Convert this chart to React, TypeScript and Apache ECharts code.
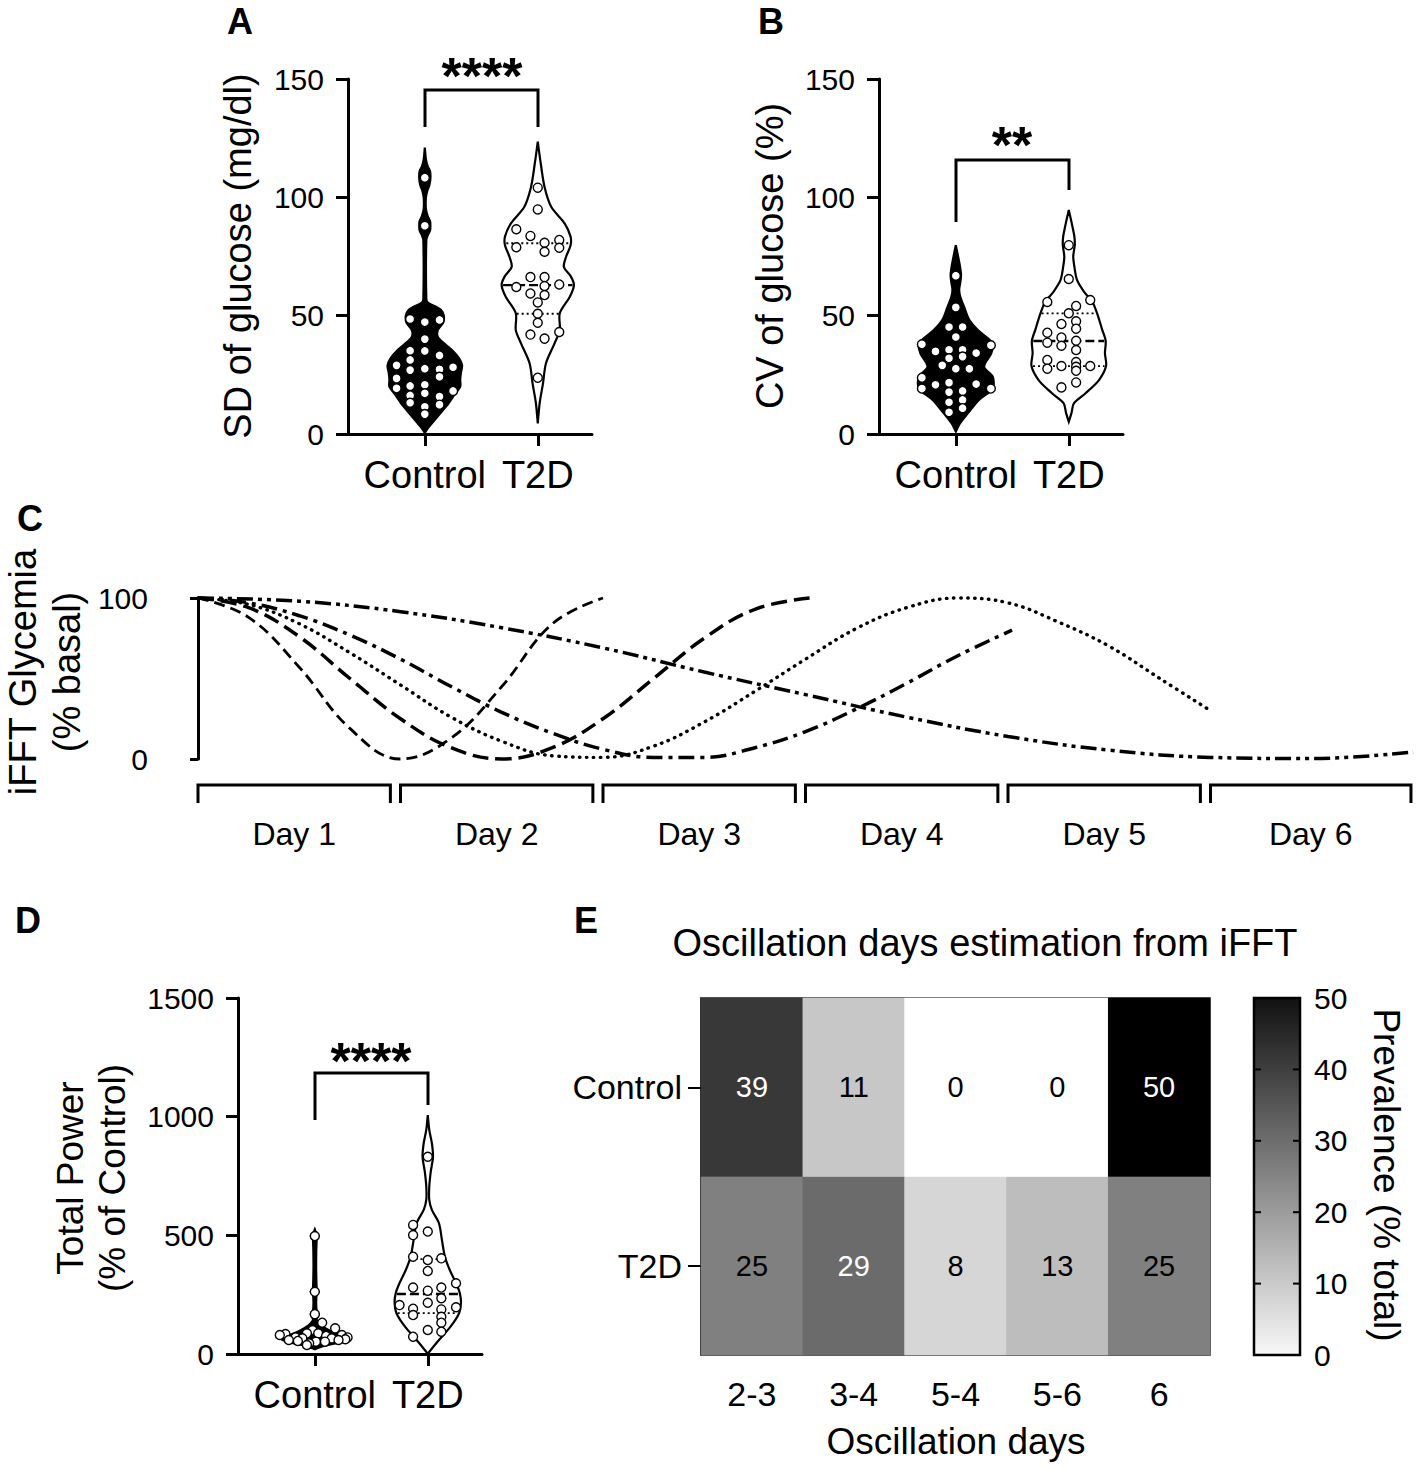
import React, { useEffect, useRef } from 'react';
import * as echarts from 'echarts';

const FONT = '"Liberation Sans", Arial, Helvetica, sans-serif';

const groupLabels = ['Control', 'T2D'];

// ---------- Panel A : SD of glucose ----------
const aCtrlVals = [108.3, 88.0, 48.6, 47.3, 48.2, 40.1, 35.2, 35.1, 33.2, 31.3, 29.0, 27.0, 27.6, 27.3, 28.2, 24.2, 23.5, 19.3, 20.3, 20.8, 18.2, 17.2, 16.3, 15.8, 13.2, 11.5, 12.4, 8.4];
const aCtrlOffs = [0, 0, -0.13, 0, 0.13, 0, -0.13, 0, 0.13, -0.13, -0.25, -0.13, 0, 0.13, 0.25, 0.13, -0.25, -0.25, -0.13, 0, 0.25, 0, -0.13, 0.13, -0.13, 0, 0.13, 0];
const aT2dVals = [104.1, 94.9, 86.5, 83.7, 82.0, 80.8, 78.9, 77.0, 78.7, 66.3, 66.3, 62.1, 62.5, 63.2, 59.4, 58.7, 55.6, 50.8, 47.0, 42.0, 40.3, 43.1, 23.8];
const aT2dOffs = [0, 0, -0.19, -0.065, 0.19, 0.06, -0.19, 0.06, 0.19, -0.065, 0.06, -0.19, 0.06, 0.19, -0.065, 0.06, 0, 0, 0, -0.065, 0.06, 0.19, 0];
const aCtrlKdeY = [0.5, 3, 7, 12, 17, 20, 23, 26, 29, 32, 35, 38, 41, 44, 47, 50, 52.5, 54, 55.5, 57, 82, 84, 86, 88, 90, 92, 95, 100, 103, 105, 108, 111, 113, 116, 121];
const aCtrlKdeD = [0, 0.11, 0.32, 0.59, 0.81, 0.95, 0.95, 0.97, 1.0, 0.92, 0.76, 0.54, 0.35, 0.35, 0.49, 0.51, 0.43, 0.27, 0.08, 0.04, 0.04, 0.08, 0.14, 0.15, 0.14, 0.08, 0.03, 0.03, 0.07, 0.12, 0.15, 0.14, 0.08, 0.03, 0];
const aT2dKdeY = [4.5, 13, 21.4, 29.9, 38.3, 43.9, 51, 58, 62.9, 66.5, 70.7, 74.9, 79.8, 83.4, 89, 96, 104.5, 114.3, 123.5];
const aT2dKdeD = [0, 0.05, 0.14, 0.22, 0.45, 0.59, 0.59, 0.86, 0.97, 0.89, 0.70, 0.76, 0.88, 0.88, 0.72, 0.36, 0.18, 0.08, 0];
const aT2dQuart = [50.8, 62.9, 80.6];
const aTicks = { min: 0, max: 150, step: 50 };

// ---------- Panel B : CV of glucose ----------
const bCtrlVals = [66.9, 53.5, 45.2, 45.2, 41.0, 37.9, 37.5, 34.9, 35.6, 35.6, 34.2, 32.0, 32.7, 29.0, 27.6, 27.6, 23.8, 19.2, 20.8, 21.7, 18.2, 21.1, 19.2, 17.7, 13.4, 14.4, 9.2, 10.9];
const bCtrlOffs = [0, 0, -0.06, 0.06, 0, -0.30, 0.31, -0.18, -0.06, 0.06, 0.18, -0.06, 0.06, -0.12, 0, 0.12, -0.30, -0.30, -0.18, -0.06, 0.06, 0.18, 0.31, -0.06, -0.06, 0.06, -0.06, 0.06];
const bT2dVals = [79.8, 65.5, 55.8, 56.6, 54.1, 51.0, 46.5, 47.6, 44.5, 42.8, 40.8, 38.6, 39.4, 37.3, 35.5, 31.3, 30.4, 27.6, 28.7, 28.4, 28.7, 26.7, 21.8, 19.7];
const bT2dOffs = [0, 0, -0.19, 0.19, 0.065, 0, -0.065, 0.065, 0.065, -0.19, -0.065, -0.19, 0.065, -0.065, 0.065, -0.19, 0.065, -0.19, -0.065, 0.065, 0.19, 0.065, 0.065, -0.065];
const bCtrlKdeY = [1, 4.5, 8.7, 14.4, 19.3, 24.2, 28.4, 34.1, 38.3, 43.9, 48.2, 53.8, 58, 61, 64, 67.2, 70, 73.5, 79.8];
const bCtrlKdeD = [0, 0.11, 0.32, 0.62, 0.99, 0.99, 0.76, 0.95, 0.99, 0.59, 0.36, 0.22, 0.12, 0.09, 0.12, 0.14, 0.12, 0.08, 0];
const bT2dKdeY = [5.2, 8.7, 13, 17.2, 22.8, 28.7, 34.1, 39.3, 43.9, 51, 55.9, 60.1, 65.1, 70.7, 75, 79.8, 83.4, 89, 94.6];
const bT2dKdeD = [0, 0.07, 0.14, 0.45, 0.81, 1.0, 0.97, 0.99, 0.9, 0.76, 0.63, 0.41, 0.22, 0.15, 0.12, 0.16, 0.15, 0.08, 0];
const bT2dQuart = [28.7, 39.3, 51.0];

// ---------- Panel C : iFFT curves ----------
const cDaysP2 = [0, 0.25, 0.5, 0.75, 1, 1.25, 1.5, 1.75, 2];
const cValsP2 = [100, 88, 57, 19, 0, 13, 45, 84, 100];
const cDaysP3 = [0, 0.25, 0.5, 0.75, 1, 1.25, 1.5, 1.75, 2, 2.25, 2.5, 2.75, 3.02];
const cValsP3 = [100, 94, 76, 50, 25, 7, 0, 7, 25, 50, 75, 93, 100];
const cDaysP4 = [0, 0.25, 0.5, 0.75, 1, 1.25, 1.5, 1.75, 2, 2.25, 2.5, 2.75, 3, 3.25, 3.5, 3.75, 4, 4.25, 4.5, 4.75, 5];
const cValsP4 = [100, 96, 84, 66, 46, 26, 11, 2, 1, 8, 23, 42, 62, 81, 94, 100, 97, 85, 70, 50, 30];
const cDaysP5 = [0, 0.25, 0.5, 0.75, 1, 1.25, 1.5, 1.75, 2, 2.25, 2.5, 2.75, 3, 3.25, 3.5, 3.75, 4.02];
const cValsP5 = [100, 97, 89, 77, 62, 45, 29, 16, 6, 1, 1, 7, 17, 31, 47, 64, 80];
const cDaysP6 = [0, 0.5, 1, 1.5, 2, 2.5, 3, 3.5, 4, 4.5, 5, 5.5, 6];
const cValsP6 = [100, 98, 91.5, 81.5, 69, 54, 40, 26, 14, 5.5, 1, 0.3, 4.3];
const dayLabels = ['Day 1', 'Day 2', 'Day 3', 'Day 4', 'Day 5', 'Day 6'];
const dayStarts = [0, 1, 2, 3, 4, 5];
const dayEnds = [0.95, 1.95, 2.95, 3.95, 4.95, 5.99];

// ---------- Panel D : Total power ----------
const dCtrlVals = [497, 262, 168, 132, 108, 101, 87, 87, 84, 80, 80, 76, 70, 70, 66, 66, 62, 59, 59, 55, 52, 52, 45, 38];
const dCtrlOffs = [0, 0, 0, 0.065, 0.18, -0.02, -0.07, 0.03, -0.26, -0.31, 0.24, 0.10, -0.17, 0.29, -0.11, 0.15, 0.27, -0.23, 0.21, -0.15, 0.01, 0.09, -0.05, -0.07];
const dT2dVals = [831, 544, 501, 516, 410, 396, 403, 350, 280, 267, 280, 298, 235, 206, 191, 216, 197, 188, 164, 157, 132, 101, 94, 73];
const dT2dOffs = [0, -0.13, -0.13, 0, -0.13, 0, 0.12, 0, -0.13, 0, 0.12, 0.25, 0.12, -0.25, -0.13, 0, 0.25, 0.12, -0.13, 0.12, 0.12, 0, 0.12, -0.13];
const dCtrlKdeY = [20, 35, 50, 62, 72, 85, 100, 115, 130, 145, 160, 168, 176, 255, 262, 270, 490, 497, 504, 525];
const dCtrlKdeD = [0, 0.27, 0.7, 0.89, 0.81, 0.59, 0.38, 0.22, 0.11, 0.05, 0.08, 0.11, 0.05, 0.05, 0.11, 0.05, 0.05, 0.11, 0.05, 0];
const dT2dKdeY = [0, 17, 59, 115, 172, 214, 256, 298, 354, 410, 480, 551, 607, 649, 705, 768, 831, 888, 944, 1007];
const dT2dKdeD = [0, 0.08, 0.3, 0.61, 0.84, 0.89, 0.86, 0.76, 0.59, 0.46, 0.38, 0.3, 0.11, 0.04, 0.04, 0.08, 0.14, 0.11, 0.04, 0];
const dT2dQuart = [172, 253, 400];

// ---------- Panel E : heatmap ----------
const eDays = ['2-3', '3-4', '5-4', '5-6', '6'];
const eGroups = ['T2D', 'Control'];
const eControl = [39, 11, 0, 0, 50];
const eT2D = [25, 29, 8, 13, 25];
const eScale = { min: 0, max: 50, step: 10 };
const eBarTicks = [10, 20, 30, 40];

const HALF = 0.33;
const BLACK = '#000';

function densAt(ys: number[], ds: number[], q: number) {
  for (let i = 0; i < ys.length - 1; i++) {
    if (q >= ys[i] && q <= ys[i + 1]) {
      const f = (q - ys[i]) / (ys[i + 1] - ys[i]);
      return ds[i] + f * (ds[i + 1] - ds[i]);
    }
  }
  return 0;
}

function violin(ax: number, center: number, ys: number[], ds: number[], fill: string, quart?: number[]) {
  return {
    type: 'custom',
    xAxisIndex: ax,
    yAxisIndex: ax,
    clip: false,
    silent: true,
    z: 2,
    data: [[center, ys[0]]],
    renderItem: (params: any, api: any) => {
      const pts: number[][] = [];
      for (let i = 0; i < ys.length; i++) pts.push(api.coord([center + ds[i] * HALF, ys[i]]));
      for (let i = ys.length - 1; i >= 0; i--) pts.push(api.coord([center - ds[i] * HALF, ys[i]]));
      const children: any[] = [
        { type: 'polygon', shape: { points: pts, smooth: 0.3 }, style: { fill, stroke: BLACK, lineWidth: 2.2 } },
      ];
      if (quart) {
        quart.forEach((q, k) => {
          const w = densAt(ys, ds, q) * HALF * 0.96;
          const p1 = api.coord([center - w, q]);
          const p2 = api.coord([center + w, q]);
          children.push({
            type: 'line',
            shape: { x1: p1[0], y1: p1[1], x2: p2[0], y2: p2[1] },
            style: { stroke: BLACK, lineWidth: k === 1 ? 2.4 : 1.8, lineDash: k === 1 ? [9, 4] : [2, 3] },
          });
        });
      }
      return { type: 'group', children };
    },
  };
}

function dots(ax: number, center: number, vals: number[], offs: number[]) {
  return {
    type: 'scatter',
    xAxisIndex: ax,
    yAxisIndex: ax,
    z: 3,
    silent: true,
    symbol: 'circle',
    symbolSize: 9,
    itemStyle: { color: '#fff', borderColor: BLACK, borderWidth: 1.4, opacity: 1 },
    data: vals.map((v, i) => [center + offs[i], v]),
  };
}

function groupXAxis(grid: number) {
  return {
    gridIndex: grid,
    type: 'value',
    min: 0.32,
    max: 2.48,
    axisLine: { show: true, onZero: false, lineStyle: { color: BLACK, width: 3 } },
    axisTick: { show: true, customValues: [1, 2], length: 12, lineStyle: { color: BLACK, width: 3 } },
    axisLabel: {
      customValues: [1, 2],
      formatter: (v: number) => groupLabels[Math.round(v) - 1] || '',
      fontSize: 38, color: BLACK, fontFamily: FONT, margin: 22,
    },
    splitLine: { show: false },
  };
}

function valueYAxis(grid: number, min: number, max: number, step: number, extra: any = {}) {
  return {
    gridIndex: grid,
    type: 'value',
    min, max, interval: step,
    axisLine: { show: true, lineStyle: { color: BLACK, width: 3 } },
    axisTick: { show: true, length: 12, lineStyle: { color: BLACK, width: 3 } },
    axisLabel: { fontSize: 30, color: BLACK, fontFamily: FONT, margin: 24, formatter: (v: number) => String(v) },
    splitLine: { show: false },
    ...extra,
  };
}

function gText(text: string, x: number, y: number, size: number, opts: any = {}) {
  return {
    type: 'text',
    x, y,
    rotation: opts.rot || 0,
    z: 100,
    style: {
      text,
      fontSize: size,
      fontFamily: FONT,
      fontWeight: opts.bold ? 'bold' : 'normal',
      fill: BLACK,
      align: 'center',
      verticalAlign: 'middle',
      lineHeight: opts.lh,
    },
  };
}

function bracket(pts: number[][]) {
  return { type: 'polyline', z: 100, shape: { points: pts }, style: { stroke: BLACK, lineWidth: 3, fill: 'none' } };
}

function buildOption() {
  const series: any[] = [];
  // A
  series.push(violin(0, 1, aCtrlKdeY, aCtrlKdeD, '#000'));
  series.push(violin(0, 2, aT2dKdeY, aT2dKdeD, '#fff', aT2dQuart));
  series.push(dots(0, 1, aCtrlVals, aCtrlOffs));
  series.push(dots(0, 2, aT2dVals, aT2dOffs));
  // B
  series.push(violin(1, 1, bCtrlKdeY, bCtrlKdeD, '#000'));
  series.push(violin(1, 2, bT2dKdeY, bT2dKdeD, '#fff', bT2dQuart));
  series.push(dots(1, 1, bCtrlVals, bCtrlOffs));
  series.push(dots(1, 2, bT2dVals, bT2dOffs));
  // C
  const curves = [
    { d: cDaysP2, v: cValsP2, ls: { type: [11, 6], width: 2.8 } },
    { d: cDaysP3, v: cValsP3, ls: { type: [16, 7], width: 3.5 } },
    { d: cDaysP4, v: cValsP4, ls: { type: [0.5, 6.5], width: 3.4, cap: 'round' } },
    { d: cDaysP5, v: cValsP5, ls: { type: [16, 6, 4, 6], width: 3.5 } },
    { d: cDaysP6, v: cValsP6, ls: { type: [16, 5, 4, 5, 4, 5], width: 3.5 } },
  ];
  curves.forEach((c) => {
    series.push({
      type: 'line', xAxisIndex: 2, yAxisIndex: 2, smooth: 0.4, showSymbol: false, clip: false, silent: true,
      lineStyle: { color: BLACK, ...c.ls },
      data: c.d.map((t, i) => [t, c.v[i]]),
    });
  });
  series.push({
    type: 'custom', xAxisIndex: 2, yAxisIndex: 2, clip: false, silent: true,
    data: dayStarts.map((s, i) => [s, dayEnds[i]]),
    renderItem: (params: any, api: any) => {
      const x1 = api.coord([api.value(0), 0])[0];
      const x2 = api.coord([api.value(1), 0])[0];
      const base = api.coord([0, 0])[1];
      const y0 = base + 26;
      const y1 = base + 44;
      return {
        type: 'group',
        children: [
          { type: 'polyline', shape: { points: [[x1, y1], [x1, y0], [x2, y0], [x2, y1]] }, style: { stroke: BLACK, lineWidth: 3, fill: 'none' } },
          { type: 'text', style: { text: dayLabels[params.dataIndex], x: (x1 + x2) / 2, y: base + 75, align: 'center', verticalAlign: 'middle', fontSize: 32, fontFamily: FONT, fill: BLACK } },
        ],
      };
    },
  });
  // D
  series.push(violin(3, 1, dCtrlKdeY, dCtrlKdeD, '#000'));
  series.push(violin(3, 2, dT2dKdeY, dT2dKdeD, '#fff', dT2dQuart));
  series.push(dots(3, 1, dCtrlVals, dCtrlOffs));
  series.push(dots(3, 2, dT2dVals, dT2dOffs));
  // E heatmap
  const heatData: any[] = [];
  [eT2D, eControl].forEach((row, yi) => {
    row.forEach((v, xi) => {
      heatData.push({ value: [xi, yi, v], label: { color: v >= 29 ? '#fff' : '#000' } });
    });
  });
  const heatIndex = series.length;
  series.push({
    type: 'heatmap', xAxisIndex: 4, yAxisIndex: 4, silent: true,
    label: { show: true, fontSize: 29, fontFamily: FONT },
    data: heatData,
  });
  // colour bar
  series.push({
    type: 'custom', xAxisIndex: 5, yAxisIndex: 5, clip: false, silent: true, z: 1,
    data: [[0, eScale.max]],
    renderItem: (params: any, api: any) => {
      const p0 = api.coord([0, eScale.min]);
      const p1 = api.coord([1, eScale.max]);
      const children: any[] = [
        {
          type: 'rect',
          shape: { x: p0[0], y: p1[1], width: p1[0] - p0[0], height: p0[1] - p1[1] },
          style: {
            fill: new echarts.graphic.LinearGradient(0, 0, 0, 1, [
              { offset: 0, color: '#111111' },
              { offset: 1, color: '#f8f8f8' },
            ]),
            stroke: BLACK,
            lineWidth: 2.5,
          },
        },
      ];
      eBarTicks.forEach((t) => {
        const yy = api.coord([0, t])[1];
        children.push({ type: 'line', shape: { x1: p0[0], y1: yy, x2: p0[0] + 7, y2: yy }, style: { stroke: BLACK, lineWidth: 2 } });
        children.push({ type: 'line', shape: { x1: p1[0] - 7, y1: yy, x2: p1[0], y2: yy }, style: { stroke: BLACK, lineWidth: 2 } });
      });
      return { type: 'group', children };
    },
  });

  const graphic: any[] = [
    gText('A', 240, 21, 36, { bold: true }),
    gText('B', 771, 21, 36, { bold: true }),
    gText('C', 30, 518, 36, { bold: true }),
    gText('D', 28, 920, 36, { bold: true }),
    gText('E', 586, 920, 36, { bold: true }),
    gText('****', 482, 76, 52, { bold: true }),
    gText('**', 1012, 145, 52, { bold: true }),
    gText('****', 371, 1061, 52, { bold: true }),
    bracket([[425, 127], [425, 90], [538, 90], [538, 127]]),
    bracket([[956, 222], [956, 160], [1069, 160], [1069, 190]]),
    bracket([[315, 1120], [315, 1073], [428, 1073], [428, 1105]]),
    gText('SD of glucose (mg/dl)', 238, 256, 38, { rot: Math.PI / 2 }),
    gText('CV of glucose (%)', 770, 256, 38, { rot: Math.PI / 2 }),
    gText('iFFT Glycemia\n(% basal)', 45, 672, 38, { rot: Math.PI / 2, lh: 44 }),
    gText('Total Power\n(% of Control)', 91, 1178, 37, { rot: Math.PI / 2, lh: 42 }),
    gText('Oscillation days estimation from iFFT', 985, 943, 38),
    gText('Oscillation days', 956, 1441, 37),
    gText('Prevalence (% total)', 1386, 1175, 37, { rot: -Math.PI / 2 }),
  ];

  return {
    animation: false,
    backgroundColor: '#fff',
    textStyle: { fontFamily: FONT, color: BLACK },
    grid: [
      { left: 348, top: 79, width: 244, height: 355 },
      { left: 879, top: 79, width: 244, height: 355 },
      { left: 198, top: 598, width: 1215, height: 161 },
      { left: 238, top: 998, width: 244, height: 356 },
      { left: 701, top: 998, width: 509, height: 357, show: true, borderColor: '#222', borderWidth: 1.5, backgroundColor: 'transparent' },
      { left: 1254, top: 998, width: 46, height: 357 },
    ],
    xAxis: [
      groupXAxis(0),
      groupXAxis(1),
      { gridIndex: 2, type: 'value', min: 0, max: 6, show: false },
      groupXAxis(3),
      {
        gridIndex: 4, type: 'category', data: eDays,
        axisLine: { show: false }, axisTick: { show: false },
        axisLabel: { fontSize: 34, color: BLACK, fontFamily: FONT, margin: 22 },
        splitLine: { show: false },
      },
      { gridIndex: 5, type: 'value', min: 0, max: 1, show: false },
    ],
    yAxis: [
      valueYAxis(0, aTicks.min, aTicks.max, aTicks.step),
      valueYAxis(1, 0, 150, 50),
      valueYAxis(2, 0, 100, 100, { offset: 34, axisTick: { show: true, length: 8, lineStyle: { color: BLACK, width: 3 } }, axisLabel: { fontSize: 30, color: BLACK, fontFamily: FONT, margin: 16 } }),
      valueYAxis(3, 0, 1500, 500),
      {
        gridIndex: 4, type: 'category', data: eGroups,
        axisLine: { show: true, lineStyle: { color: '#222', width: 1.5 } },
        axisTick: { show: true, alignWithLabel: true, length: 13, lineStyle: { color: BLACK, width: 2 } },
        axisLabel: { fontSize: 34, color: BLACK, fontFamily: FONT, margin: 19 },
        splitLine: { show: false },
      },
      {
        gridIndex: 5, type: 'value', position: 'right', min: eScale.min, max: eScale.max, interval: eScale.step, z: 10,
        axisLine: { show: false },
        axisTick: { show: false },
        axisLabel: { fontSize: 30, color: BLACK, fontFamily: FONT, margin: 14 },
        splitLine: { show: false },
      },
    ],
    visualMap: [
      {
        type: 'continuous', show: false, seriesIndex: heatIndex, dimension: 2,
        min: eScale.min, max: eScale.max, inRange: { color: ['#ffffff', '#000000'] },
      },
    ],
    series,
    graphic,
  };
}

export default function App() {
  const ref = useRef<HTMLDivElement>(null);
  useEffect(() => {
    if (!ref.current) return;
    const chart = echarts.init(ref.current, null, { renderer: 'svg' });
    chart.setOption(buildOption() as any);
    return () => chart.dispose();
  }, []);
  return (
    <div
      ref={ref}
      style={{ position: 'absolute', left: 0, top: 0, width: 1416, height: 1469, background: '#fff' }}
    />
  );
}
